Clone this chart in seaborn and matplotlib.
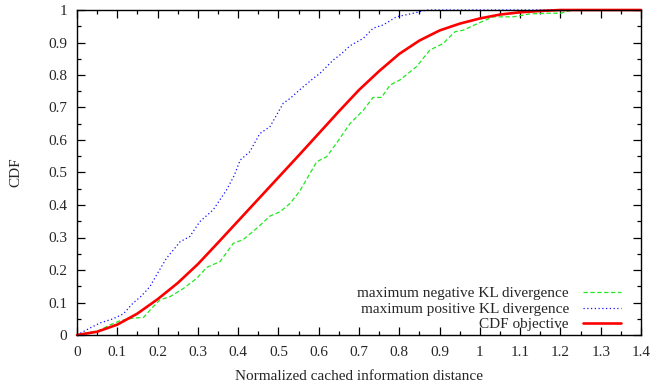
import numpy as np
import pandas as pd
import matplotlib
matplotlib.use("Agg")
import matplotlib.pyplot as plt
from matplotlib.ticker import MultipleLocator, FuncFormatter
import seaborn as sns

# --- data ---
neg_x = [0, 0.03, 0.057, 0.082, 0.107, 0.14, 0.165, 0.189, 0.206, 0.231, 0.264, 0.297,
         0.322, 0.355, 0.388, 0.413, 0.446, 0.479, 0.504, 0.529, 0.553, 0.575, 0.595,
         0.62, 0.644, 0.678, 0.711, 0.735, 0.756, 0.777, 0.802, 0.843, 0.876, 0.909,
         0.938, 0.959, 0.992, 1.033, 1.083, 1.124, 1.166, 1.2, 1.23, 1.4]
neg_y = [0, 0.008, 0.015, 0.031, 0.044, 0.052, 0.054, 0.087, 0.108, 0.118, 0.143, 0.174,
         0.208, 0.226, 0.282, 0.294, 0.328, 0.366, 0.379, 0.405, 0.443, 0.49, 0.533,
         0.549, 0.59, 0.651, 0.692, 0.731, 0.731, 0.769, 0.785, 0.826, 0.877, 0.897,
         0.933, 0.938, 0.957, 0.979, 0.979, 0.988, 0.99, 0.99, 1.0, 1.0]

pos_x = [0, 0.03, 0.057, 0.09, 0.115, 0.139, 0.16, 0.181, 0.2, 0.222, 0.256, 0.28,
         0.305, 0.338, 0.371, 0.39, 0.405, 0.429, 0.454, 0.479, 0.512, 0.529, 0.56,
         0.587, 0.603, 0.636, 0.656, 0.678, 0.711, 0.735, 0.76, 0.793, 0.835, 0.868, 1.4]
pos_y = [0, 0.02, 0.037, 0.05, 0.065, 0.098, 0.12, 0.149, 0.19, 0.236, 0.287, 0.303,
         0.349, 0.385, 0.446, 0.49, 0.538, 0.564, 0.62, 0.641, 0.713, 0.728, 0.762,
         0.79, 0.805, 0.846, 0.865, 0.89, 0.913, 0.944, 0.954, 0.979, 0.99, 1.0, 1.0]

obj_x = [0, 0.05, 0.1, 0.15, 0.2, 0.25, 0.3, 0.35, 0.4, 0.45, 0.5, 0.55, 0.6, 0.65,
         0.7, 0.75, 0.8, 0.85, 0.9, 0.95, 1.0, 1.05, 1.1, 1.15, 1.2, 1.4]
obj_y = [0, 0.01, 0.032, 0.066, 0.11, 0.16, 0.218, 0.284, 0.351, 0.418, 0.485, 0.552,
         0.62, 0.688, 0.754, 0.812, 0.865, 0.906, 0.937, 0.958, 0.974, 0.986, 0.993,
         0.997, 1.0, 1.0]

labels = ["maximum negative KL divergence", "maximum positive KL divergence", "CDF objective"]

sns.set_theme(style="ticks")
plt.rcParams["font.family"] = ["Liberation Serif", "DejaVu Serif"]

fig = plt.figure(figsize=(6.51, 3.85), dpi=100)
ax = fig.add_axes([77 / 651, 50 / 385, (641 - 77) / 651, (335 - 10) / 385])

df_neg = pd.DataFrame({"x": neg_x, "y": neg_y})
df_pos = pd.DataFrame({"x": pos_x, "y": pos_y})
df_obj = pd.DataFrame({"x": obj_x, "y": obj_y})

sns.lineplot(data=df_neg, x="x", y="y", ax=ax, color="#22e822", lw=0.9,
             label=labels[0], estimator=None)
sns.lineplot(data=df_pos, x="x", y="y", ax=ax, color="#1010ff", lw=0.9,
             label=labels[1], estimator=None)
sns.lineplot(data=df_obj, x="x", y="y", ax=ax, color="#ff0000", lw=1.9,
             label=labels[2], estimator=None)
ax.lines[0].set_linestyle((0, (3.5, 2)))
ax.lines[1].set_linestyle((0, (1, 2)))
for ln in ax.lines:
    ln.set_clip_on(False)

ax.set_xlim(0, 1.4)
ax.set_ylim(0, 1)
fmt = FuncFormatter(lambda v, p: f"{round(v, 2):g}")
ax.xaxis.set_major_locator(MultipleLocator(0.1))
ax.xaxis.set_minor_locator(MultipleLocator(0.05))
ax.yaxis.set_major_locator(MultipleLocator(0.1))
ax.yaxis.set_minor_locator(MultipleLocator(0.05))
ax.xaxis.set_major_formatter(fmt)
ax.yaxis.set_major_formatter(fmt)
ax.tick_params(which="both", direction="in", top=True, right=True, labelsize=11,
               color="black", width=0.9)
ax.tick_params(which="major", length=6)
ax.tick_params(axis="x", which="major", pad=8)
ax.tick_params(axis="y", which="major", pad=7)
ax.tick_params(which="minor", length=3)
for s in ax.spines.values():
    s.set_linewidth(1.0)
    s.set_color("black")

ax.set_xlabel("Normalized cached information distance", fontsize=11, labelpad=8)
ax.set_ylabel("CDF", fontsize=11, labelpad=19)

leg = ax.legend(loc="lower right", frameon=False, markerfirst=False, fontsize=11,
                handlelength=2.5, handletextpad=0.9, labelspacing=0.12,
                borderaxespad=0.0, bbox_to_anchor=(0.975, -0.008))

fig.savefig("out.png", dpi=100)
